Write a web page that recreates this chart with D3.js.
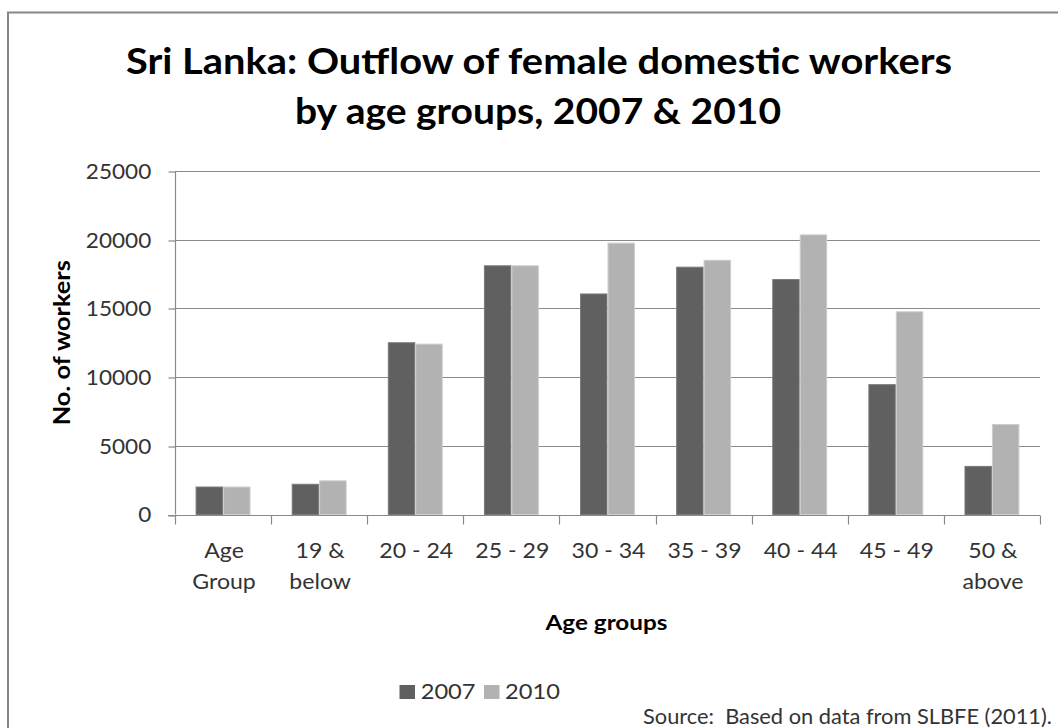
<!DOCTYPE html>
<html>
<head>
<meta charset="utf-8">
<script src="https://cdn.jsdelivr.net/npm/d3@7/dist/d3.min.js"></script>
<style>
  html, body { margin: 0; padding: 0; background: #ffffff; }
  svg { display: block; }
  text { font-family: Lato, "Open Sans", sans-serif; white-space: pre; }
</style>
</head>
<body>
<svg id="chart" width="1058" height="728"></svg>
<script>
// Female domestic worker outflow from Sri Lanka by age group (SLBFE, 2011)
const categories = ["Age Group", "19 & below", "20 - 24", "25 - 29", "30 - 34",
                    "35 - 39", "40 - 44", "45 - 49", "50 & above"];
const seriesNames = ["2007", "2010"];
const values2007 = [2000, 2200, 12500, 18100, 16050, 18000, 17100, 9450, 3500];
const values2010 = [2000, 2450, 12400, 18100, 19750, 18500, 20350, 14750, 6550];
const yTicks = [0, 5000, 10000, 15000, 20000, 25000];
const titleLines = ["Sri Lanka: Outflow of female domestic workers",
                    "by age groups, 2007 & 2010"];
const yTitle = "No. of workers";
const xTitle = "Age groups";
const sourceNote = "Source:  Based on data from SLBFE (2011).";

const colors = { "2007": "#606060", "2010": "#b2b2b2" };
const strokes = { "2007": "#7a7a7a", "2010": "#cdcdcd" };
const textColor = "#333333";
const gridColor = "#8a8a8a";
const WIDEN = 1.1; // horizontal widening of regular labels

const svg = d3.select("#chart");

// outer frame of the chart object
svg.append("rect")
  .attr("x", 8).attr("y", 12.5)
  .attr("width", 1070).attr("height", 740)
  .attr("fill", "#ffffff")
  .attr("stroke", "#878787").attr("stroke-width", 2);

const plot = { left: 175, right: 1040, top: 171, bottom: 514.5 };

const x0 = d3.scaleBand().domain(categories).range([plot.left, plot.right]).padding(0);
const x1 = d3.scaleBand().domain(seriesNames).range([0, x0.bandwidth()])
  .paddingInner(0).paddingOuter(0.75);
const y = d3.scaleLinear().domain([0, 25000]).range([plot.bottom, plot.top]);

// stretch a text element to a given advance width
function stretch(sel, w) {
  sel.attr("textLength", w).attr("lengthAdjust", "spacingAndGlyphs");
}
function widen(sel) {
  sel.each(function () {
    const n = this.getComputedTextLength();
    d3.select(this).attr("textLength", n * WIDEN).attr("lengthAdjust", "spacingAndGlyphs");
  });
}

// horizontal gridlines
svg.append("g")
  .selectAll("line")
  .data(yTicks)
  .join("line")
  .attr("x1", plot.left).attr("x2", plot.right)
  .attr("y1", d => Math.round(y(d)) + 0.5).attr("y2", d => Math.round(y(d)) + 0.5)
  .attr("stroke", gridColor).attr("stroke-width", 1.2);

// y axis
const yAxis = svg.append("g")
  .attr("transform", `translate(${plot.left + 0.5},0)`)
  .call(d3.axisLeft(y).tickValues(yTicks).tickSize(7).tickPadding(18).tickFormat(d3.format("d")));
yAxis.select(".domain").attr("stroke", gridColor).attr("stroke-width", 1.2)
  .attr("d", `M0,${plot.top}V${plot.bottom}`);
yAxis.selectAll(".tick line").attr("stroke", gridColor).attr("stroke-width", 1.2)
  .attr("transform", d => `translate(0,${Math.round(y(d)) + 0.5 - y(d)})`);
yAxis.selectAll(".tick text")
  .attr("fill", textColor)
  .style("font-size", "20.5px")
  .attr("dy", "0.36em")
  .call(widen);
yAxis.selectAll(".tick text").attr("x", 150.7 - plot.left);

// x axis with tick marks on category boundaries
const xAxisY = Math.round(plot.bottom) + 0.5;
svg.append("line")
  .attr("x1", plot.left - 7).attr("x2", plot.right)
  .attr("y1", xAxisY).attr("y2", xAxisY)
  .attr("stroke", gridColor).attr("stroke-width", 1.2);
const bounds = categories.map(c => x0(c)).concat([plot.right]);
svg.append("g")
  .selectAll("line")
  .data(bounds)
  .join("line")
  .attr("x1", d => Math.round(d) + 0.5).attr("x2", d => Math.round(d) + 0.5)
  .attr("y1", xAxisY).attr("y2", xAxisY + 9)
  .attr("stroke", gridColor).attr("stroke-width", 1.2);

// bars
const rows = categories.map((c, i) => ({
  cat: c,
  vals: [{ s: "2007", v: values2007[i] }, { s: "2010", v: values2010[i] }]
}));
svg.append("g")
  .selectAll("g")
  .data(rows)
  .join("g")
  .attr("transform", d => `translate(${x0(d.cat)},0)`)
  .selectAll("rect")
  .data(d => d.vals)
  .join("rect")
  .attr("x", d => x1(d.s) + 0.5)
  .attr("y", d => y(d.v))
  .attr("width", x1.bandwidth() - 1)
  .attr("height", d => plot.bottom - y(d.v))
  .attr("fill", d => colors[d.s])
  .attr("stroke", d => strokes[d.s])
  .attr("stroke-width", 1);

// category labels (wrapped onto two lines when they contain words)
function wrapLabel(c) {
  if (/[a-z]/i.test(c)) {
    const k = c.lastIndexOf(" ");
    return [c.slice(0, k), c.slice(k + 1)];
  }
  return [c];
}
const xl = svg.append("g");
categories.forEach(c => {
  const cx = x0(c) + x0.bandwidth() / 2;
  wrapLabel(c).forEach((line, j) => {
    xl.append("text")
      .attr("x", cx + 1).attr("y", 558 + j * 30.6)
      .attr("text-anchor", "middle")
      .attr("fill", textColor)
      .style("font-size", "21px")
      .text(line)
      .call(widen);
  });
});

// axis titles
svg.append("text")
  .attr("x", (plot.left + plot.right) / 2 - 1).attr("y", 630)
  .attr("text-anchor", "middle")
  .attr("fill", "#000000")
  .style("font-size", "20px").style("font-weight", "bold")
  .text(xTitle)
  .call(stretch, 122);

svg.append("text")
  .attr("transform", `translate(69.5,${(plot.top + plot.bottom) / 2}) rotate(-90)`)
  .attr("text-anchor", "middle")
  .attr("fill", "#000000")
  .style("font-size", "23px").style("font-weight", "bold")
  .text(yTitle)
  .call(stretch, 165);

// title
const titleSpecs = [{ cx: 539, y: 74, w: 826 }, { cx: 538, y: 124, w: 486 }];
titleLines.forEach((t, i) => {
  svg.append("text")
    .attr("x", titleSpecs[i].cx).attr("y", titleSpecs[i].y)
    .attr("text-anchor", "middle")
    .attr("fill", "#000000")
    .style("font-size", "36px").style("font-weight", "bold")
    .text(t)
    .call(stretch, titleSpecs[i].w);
});

// legend
const legendSpecs = [{ sx: 399.5, tx: 420.7 }, { sx: 484, tx: 505 }];
seriesNames.forEach((s, i) => {
  svg.append("rect")
    .attr("x", legendSpecs[i].sx).attr("y", 685)
    .attr("width", 15.5).attr("height", 14)
    .attr("fill", colors[s]);
  svg.append("text")
    .attr("x", legendSpecs[i].tx).attr("y", 699)
    .attr("fill", textColor)
    .style("font-size", "21.5px")
    .text(s)
    .call(widen);
});

// source note
svg.append("text")
  .attr("x", 643).attr("y", 723.5)
  .attr("fill", textColor)
  .style("font-size", "21.5px")
  .text(sourceNote)
  .call(stretch, 409);
</script>
</body>
</html>
